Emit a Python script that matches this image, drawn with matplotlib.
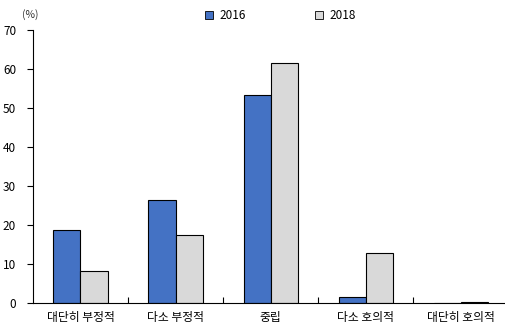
import matplotlib.pyplot as plt
import numpy as np
from matplotlib.lines import Line2D

plt.rcParams['font.family'] = ['Noto Sans CJK KR', 'DejaVu Sans']

# data
categories = ['대단히 부정적', '다소 부정적', '중립', '다소 호의적', '대단히 호의적']
vals_2016 = [18.8, 26.4, 53.2, 1.6, 0.0]
vals_2018 = [8.1, 17.5, 61.5, 12.7, 0.3]

blue = '#4472C4'
gray = '#D9D9D9'

fig = plt.figure(figsize=(5.06, 3.29), dpi=100)
ax = fig.add_axes([0.065, 0.079, 0.94, 0.83])

x = np.arange(len(categories))
w = 0.285
ax.bar(x - w / 2, vals_2016, w, color=blue, edgecolor='black', linewidth=0.8)
ax.bar(x + w / 2, vals_2018, w, color=gray, edgecolor='black', linewidth=0.8)

ax.set_xlim(-0.5, 4.5)
ax.set_ylim(0, 70)
ax.set_yticks(range(0, 71, 10))
ax.tick_params(axis='y', direction='out', length=4, width=0.8, labelsize=8.5, pad=8)

ax.set_xticks(x)
ax.set_xticklabels(categories, fontsize=8.5)
ax.tick_params(axis='x', length=0, pad=6)
ax.set_xticks(x[:-1] + 0.5, minor=True)
ax.tick_params(axis='x', which='minor', direction='in', length=4, width=0.8)

for s in ['top', 'right']:
    ax.spines[s].set_visible(False)
for s in ['left', 'bottom']:
    ax.spines[s].set_linewidth(0.8)

fig.text(0.043, 0.955, '(%)', fontsize=7.5, ha='left', va='center', color='#333333')

handles = [Line2D([], [], marker='s', linestyle='', markersize=6,
                  markerfacecolor=blue, markeredgecolor='black', markeredgewidth=0.6),
           Line2D([], [], marker='s', linestyle='', markersize=6,
                  markerfacecolor=gray, markeredgecolor='black', markeredgewidth=0.6)]
fig.legend(handles, ['2016', '2018'], loc='center', bbox_to_anchor=(0.553, 0.952),
           ncol=2, frameon=False, fontsize=8.5, handlelength=0.8,
           handletextpad=0.5, columnspacing=5.8)

fig.savefig('out.png', dpi=100)
